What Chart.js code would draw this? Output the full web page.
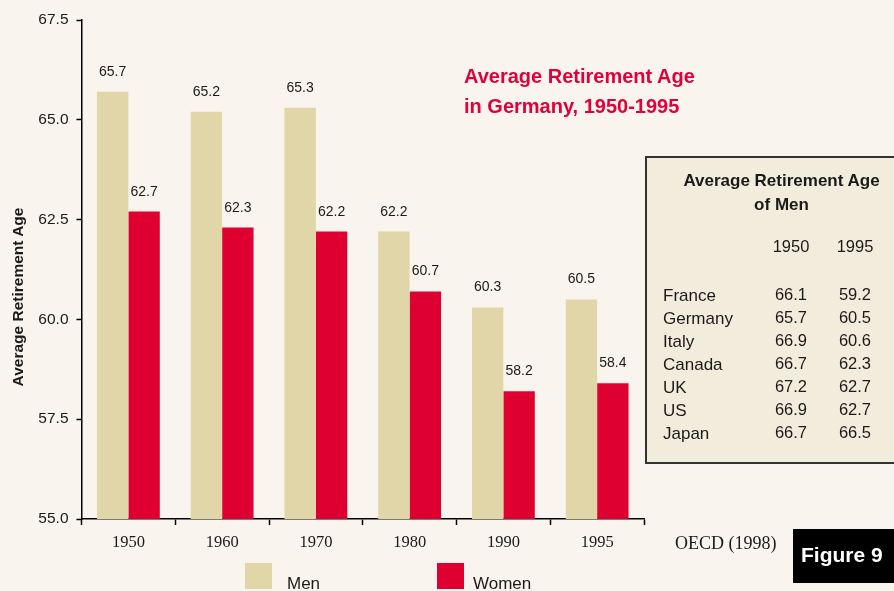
<!DOCTYPE html>
<html>
<head>
<meta charset="utf-8">
<script src="https://cdn.jsdelivr.net/npm/chart.js@4"></script>
<style>
  html, body { margin: 0; padding: 0; background: #f9f5ee; }
  #wrap { position: relative; width: 894px; height: 591px; overflow: hidden; background: #f9f5ee; }
  #c { position: absolute; left: 0; top: 0; }
  #ov { position: absolute; left: 0; top: 0; pointer-events: none; }
  .sans { font-family: "Liberation Sans", Arial, Helvetica, sans-serif; }
  .serif { font-family: "Liberation Serif", "Times New Roman", serif; }
</style>
</head>
<body>
<div id="wrap">
  <canvas id="c" width="894" height="591"></canvas>
  <svg id="ov" width="894" height="591" xmlns="http://www.w3.org/2000/svg"></svg>
</div>
<script>
// ---- data ----
const categories = ['1950', '1960', '1970', '1980', '1990', '1995'];
const menValues = [65.7, 65.2, 65.3, 62.2, 60.3, 60.5];
const womenValues = [62.7, 62.3, 62.2, 60.7, 58.2, 58.4];
const seriesNames = ['Men', 'Women'];
const yTicks = [55.0, 57.5, 60.0, 62.5, 65.0, 67.5];

const tableTitle = ['Average Retirement Age', 'of Men'];
const tableYears = ['1950', '1995'];
const tableCountries = ['France', 'Germany', 'Italy', 'Canada', 'UK', 'US', 'Japan'];
const table1950 = [66.1, 65.7, 66.9, 66.7, 67.2, 66.9, 66.7];
const table1995 = [59.2, 60.5, 60.6, 62.3, 62.7, 62.7, 66.5];

const chartTitle = ['Average Retirement Age', 'in Germany, 1950-1995'];
const yAxisTitle = 'Average Retirement Age';
const sourceText = 'OECD (1998)';
const figureText = 'Figure 9';

const MEN_COLOR = '#e0d6a8';
const WOMEN_COLOR = '#dd0031';
const TITLE_RED = '#e0003a';

// ---- value labels plugin ----
const valueLabels = {
  id: 'valueLabels',
  afterDatasetsDraw(chart) {
    const ctx = chart.ctx;
    ctx.save();
    ctx.font = '14px "Liberation Sans", Arial, sans-serif';
    ctx.fillStyle = '#1a1a1a';
    ctx.textAlign = 'center';
    ctx.textBaseline = 'alphabetic';
    chart.data.datasets.forEach((ds, i) => {
      const meta = chart.getDatasetMeta(i);
      meta.data.forEach((el, j) => {
        ctx.fillText(Number(ds.data[j]).toFixed(1), el.x, el.y - 16);
      });
    });
    ctx.restore();
  }
};

const chart = new Chart(document.getElementById('c'), {
  type: 'bar',
  data: {
    labels: categories,
    datasets: [
      { label: seriesNames[0], data: menValues, backgroundColor: MEN_COLOR, borderWidth: 0,
        categoryPercentage: 0.67, barPercentage: 1.0 },
      { label: seriesNames[1], data: womenValues, backgroundColor: WOMEN_COLOR, borderWidth: 0,
        categoryPercentage: 0.67, barPercentage: 1.0 }
    ]
  },
  options: {
    responsive: false,
    animation: false,
    devicePixelRatio: 1,
    layout: { padding: { left: 0, right: 250, top: 20, bottom: 0 } },
    plugins: { legend: { display: false }, tooltip: { enabled: false } },
    scales: {
      x: {
        grid: { display: true, drawOnChartArea: false, drawTicks: true, tickLength: 6,
                tickColor: '#000', tickWidth: 1.5, offset: true },
        border: { display: true, color: '#000', width: 1.5 },
        ticks: { color: '#1a1a1a', font: { family: '"Liberation Serif", "Times New Roman", serif', size: 16.5 },
                 padding: 8, maxRotation: 0 },
        afterFit: s => { s.height = 72; }
      },
      y: {
        min: yTicks[0], max: yTicks[yTicks.length - 1],
        afterBuildTicks: s => { s.ticks = yTicks.map(v => ({ value: v })); },
        ticks: { callback: v => Number(v).toFixed(1), color: '#1a1a1a',
                 font: { family: '"Liberation Sans", Arial, sans-serif', size: 15.5 }, padding: 8 },
        grid: { drawOnChartArea: false, drawTicks: true, tickLength: 5, tickColor: '#000', tickWidth: 1.5 },
        border: { display: true, color: '#000', width: 1.5 },
        afterFit: s => { s.width = 81.5; }
      }
    }
  },
  plugins: [valueLabels]
});

// ---- overlay text (SVG) ----
const NS = 'http://www.w3.org/2000/svg';
const svg = document.getElementById('ov');
function el(tag, attrs, text) {
  const e = document.createElementNS(NS, tag);
  for (const k in attrs) e.setAttribute(k, attrs[k]);
  if (text !== undefined) e.textContent = text;
  svg.appendChild(e);
  return e;
}
const SANS = '"Liberation Sans", Arial, Helvetica, sans-serif';
const SERIF = '"Liberation Serif", "Times New Roman", serif';

// y axis title
el('text', { transform: 'translate(22.5,297) rotate(-90)', 'text-anchor': 'middle',
  'font-family': SANS, 'font-size': '15.5', 'font-weight': 'bold', fill: '#1a1a1a' }, yAxisTitle);

// chart title
chartTitle.forEach((t, i) => el('text', { x: 464, y: 83 + i * 30, 'font-family': SANS, 'font-size': '20',
  'font-weight': 'bold', fill: TITLE_RED }, t));

// table box
el('rect', { x: 646, y: 157, width: 260, height: 306, fill: '#f2ecdc', stroke: '#333', 'stroke-width': 2 });
tableTitle.forEach((t, i) => el('text', { x: 781.5, y: 186 + i * 24, 'text-anchor': 'middle',
  'font-family': SANS, 'font-size': '17', 'font-weight': 'bold', fill: '#1a1a1a' }, t));
const colX = [791, 855];
tableYears.forEach((t, i) => el('text', { x: colX[i], y: 252, 'text-anchor': 'middle',
  'font-family': SANS, 'font-size': '16.5', fill: '#1a1a1a' }, t));
tableCountries.forEach((c, i) => {
  const y = 300.5 + i * 23;
  el('text', { x: 663, y, 'font-family': SANS, 'font-size': '17', fill: '#1a1a1a' }, c);
  el('text', { x: colX[0], y: y - 1, 'text-anchor': 'middle', 'font-family': SANS, 'font-size': '16.5', fill: '#1a1a1a' }, table1950[i].toFixed(1));
  el('text', { x: colX[1], y: y - 1, 'text-anchor': 'middle', 'font-family': SANS, 'font-size': '16.5', fill: '#1a1a1a' }, table1995[i].toFixed(1));
});

// source and figure badge
el('text', { x: 675, y: 549, 'font-family': SERIF, 'font-size': '18', fill: '#1a1a1a' }, sourceText);
el('rect', { x: 793, y: 529, width: 110, height: 54, fill: '#000' });
el('text', { x: 801, y: 562, 'font-family': SANS, 'font-size': '21', 'font-weight': 'bold', fill: '#fff' }, figureText);

// legend built from datasets
const legendBoxX = [245, 437];
const legendTextX = [287, 473];
chart.data.datasets.forEach((ds, i) => {
  el('rect', { x: legendBoxX[i], y: 563, width: 27, height: 26, fill: ds.backgroundColor });
  el('text', { x: legendTextX[i], y: 589, 'font-family': SANS, 'font-size': '17', fill: '#1a1a1a' }, ds.label);
});
</script>
</body>
</html>
